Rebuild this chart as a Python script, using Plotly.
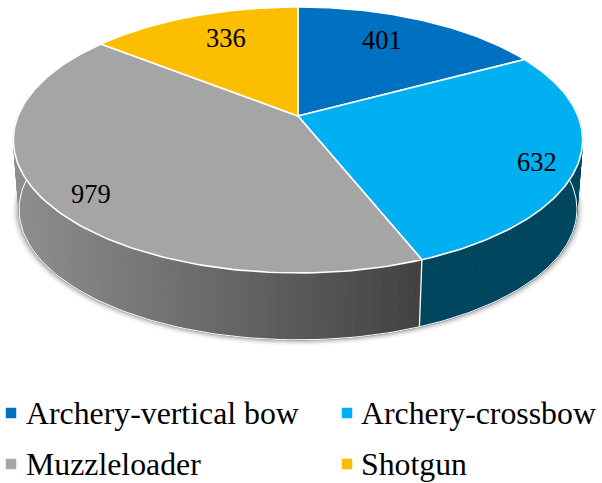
import numpy as np
import plotly.graph_objects as go

categories = ["Archery-vertical bow", "Archery-crossbow", "Muzzleloader", "Shotgun"]
values = [401, 632, 979, 336]
top_colors = ["#0070C0", "#00B0F0", "#A5A5A5", "#FCBE00"]
# wall shading per slice: (colour at left of the wall, colour at right of the wall)
wall_colors = [("#003a66", "#003a66"), ("#00465F", "#00465F"), ("#8F8F8F", "#424242"), ("#805f00", "#805f00")]
label_pos = [(382, 40), (537, 162), (91, 194), (226, 38)]
legend_markers = [(11, 413), (347, 413), (11, 464), (347, 464)]
legend_text_x = [24, 359, 24, 359]

# Projection of the pie disc, in axis units equal to pixels
CX, CY, A, B, K = 298.0, 116.0, 128.7, 280.0, 0.18
WALL_DY, WALL_SCALE = 70.0, 0.98
FRONT_FROM, FRONT_TO = 80.0, 280.0


def rim(theta_deg):
    t = np.radians(np.asarray(theta_deg, dtype=float))
    u, w = np.sin(t), -np.cos(t)
    d = 1 - K * w
    return CX + B * u / d, CY + A * w / d


def low(theta_deg):
    x, y = rim(theta_deg)
    return CX + (x - CX) * WALL_SCALE, CY + (y - CY) * WALL_SCALE + WALL_DY


def hex_rgb(h):
    return np.array([int(h[i:i + 2], 16) for i in (1, 3, 5)], dtype=float)


def mix(a, b, f):
    c = hex_rgb(a) * (1 - f) + hex_rgb(b) * f
    return f"rgb({int(c[0])},{int(c[1])},{int(c[2])})"


total = sum(values)
edges = np.concatenate([[0], np.cumsum(values)]) / total * 360.0

fig = go.Figure()

# soft shadow below the disc
ts = np.linspace(FRONT_FROM - 15, FRONT_TO + 15, 160)
for grow, alpha in [(7, 0.04), (5, 0.06), (3.5, 0.08), (2, 0.10), (1, 0.14)]:
    x, y = low(ts)
    x = CX + (x - CX) * (1 + grow / 280)
    y = y + grow * 0.8 * ((y - CY - WALL_DY) / 150).clip(0.2, 1)
    fig.add_trace(go.Scatter(x=x, y=y, mode="lines", fill="toself", line=dict(width=0),
                             fillcolor=f"rgba(0,0,0,{alpha})", hoverinfo="skip", showlegend=False))

# side walls
for i, name in enumerate(categories):
    a = max(edges[i], FRONT_FROM)
    b = min(edges[i + 1], FRONT_TO)
    if b <= a:
        continue
    steps = int(max(2, (b - a) / 1.5))
    grid = np.linspace(a, b, steps + 1)
    xs_all = rim(grid)[0]
    lo, hi = xs_all.min(), xs_all.max()
    for s in range(steps):
        seg = np.linspace(grid[s], grid[s + 1], 3)
        xt, yt = rim(seg)
        xb, yb = low(seg)
        f = (xt.mean() - lo) / max(hi - lo, 1)
        col = mix(wall_colors[i][0], wall_colors[i][1], f)
        fig.add_trace(go.Scatter(x=np.r_[xt, xb[::-1], xt[0]], y=np.r_[yt, yb[::-1], yt[0]],
                                 mode="lines", fill="toself", fillcolor=col,
                                 line=dict(color=col, width=0.8), hoverinfo="skip", showlegend=False))
    # white edge along the bottom rim of the wall
    seg = np.linspace(a, b, 80)
    xb, yb = low(seg)
    fig.add_trace(go.Scatter(x=xb, y=yb, mode="lines", line=dict(color="white", width=1),
                             hoverinfo="skip", showlegend=False))

# vertical separators between front walls
for e in edges[1:-1]:
    if FRONT_FROM < e < FRONT_TO:
        xt, yt = rim(e)
        xb, yb = low(e)
        fig.add_trace(go.Scatter(x=[xt, xb], y=[yt, yb], mode="lines", line=dict(color="white", width=1.3),
                                 hoverinfo="skip", showlegend=False))

# top faces
for i, name in enumerate(categories):
    seg = np.linspace(edges[i], edges[i + 1], 120)
    xt, yt = rim(seg)
    fig.add_trace(go.Scatter(x=np.r_[CX, xt, CX], y=np.r_[CY, yt, CY], mode="lines", fill="toself",
                             fillcolor=top_colors[i], line=dict(color="white", width=1.6),
                             name=name, text=f"{name}: {values[i]}", hoverinfo="text", showlegend=False))

# value labels
for v, (lx, ly) in zip(values, label_pos):
    fig.add_annotation(x=lx, y=ly, text=str(v), showarrow=False, xanchor="center", yanchor="middle",
                       font=dict(family="Liberation Serif", size=26.5, color="black"))

# legend
for name, col, (mx, my), tx in zip(categories, top_colors, legend_markers, legend_text_x):
    fig.add_trace(go.Scatter(x=[mx], y=[my], mode="markers", hoverinfo="skip", showlegend=False,
                             marker=dict(symbol="square", size=10.5, color=col, line=dict(width=0))))
    fig.add_annotation(x=tx, y=my, text=name, showarrow=False, xanchor="left", yanchor="middle",
                       font=dict(family="Liberation Serif", size=31.8, color="black"))

fig.update_xaxes(range=[0, 602], visible=False, fixedrange=True)
fig.update_yaxes(range=[483, 0], visible=False, fixedrange=True)
fig.update_layout(width=602, height=483, margin=dict(l=0, r=0, t=0, b=0),
                  paper_bgcolor="white", plot_bgcolor="white", showlegend=False)
fig.write_html("out.html", config=dict(displayModeBar=False), post_script="document.body.style.margin='0';")
